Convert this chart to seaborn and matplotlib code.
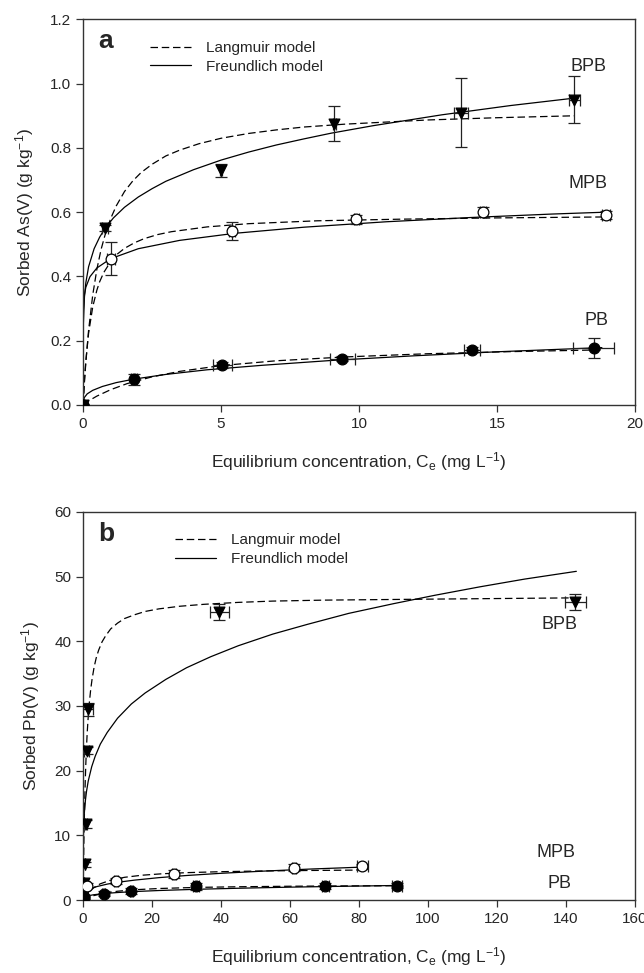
import numpy as np
import matplotlib
matplotlib.use("Agg")
import matplotlib.pyplot as plt
import seaborn as sns
from matplotlib.lines import Line2D

# ---- panel a: As(V) observed points ----
a_bpb_x = [0, 0.8, 5.0, 9.1, 13.7, 17.8]
a_bpb_y = [0, 0.55, 0.73, 0.875, 0.91, 0.95]
a_bpb_yerr = [0, 0.01, 0.02, 0.055, 0.108, 0.073]
a_bpb_xerr = [0, 0.1, 0.05, 0.05, 0.26, 0.2]

a_mpb_x = [0, 1.0, 5.4, 9.9, 14.5, 18.95]
a_mpb_y = [0, 0.455, 0.54, 0.577, 0.60, 0.592]
a_mpb_yerr = [0, 0.052, 0.028, 0.015, 0.015, 0.012]
a_mpb_xerr = [0, 0.15, 0.1, 0.1, 0.1, 0.15]

a_pb_x = [0, 1.85, 5.05, 9.4, 14.1, 18.5]
a_pb_y = [0, 0.08, 0.124, 0.143, 0.172, 0.177]
a_pb_yerr = [0, 0.017, 0.008, 0.008, 0.008, 0.03]
a_pb_xerr = [0, 0.1, 0.35, 0.45, 0.3, 0.75]

# panel a model curves
a_bpb_fr_x = [0, 0.001, 0.01, 0.05, 0.1, 0.2, 0.4, 0.6, 0.8, 1.1, 1.5, 2, 2.5, 3, 4, 5, 6, 7, 8, 9,
              10.5, 13, 15.5, 17.9]
a_bpb_fr_y = [0, 0.167, 0.252, 0.336, 0.380, 0.430, 0.486, 0.522, 0.550, 0.582, 0.615, 0.647, 0.673,
              0.696, 0.732, 0.762, 0.787, 0.809, 0.828, 0.846, 0.869, 0.903, 0.932, 0.956]
a_bpb_la_x = [0, 0.05, 0.1, 0.2, 0.35, 0.5, 0.65, 0.8, 1.0, 1.2, 1.5, 1.8, 2.1, 2.5, 3.0, 3.5, 4.2,
              5, 6, 7, 8, 9.5, 12.5, 15, 17.8]
a_bpb_la_y = [0, 0.071, 0.132, 0.232, 0.342, 0.422, 0.483, 0.530, 0.580, 0.619, 0.664, 0.697, 0.723,
              0.749, 0.775, 0.793, 0.813, 0.830, 0.845, 0.856, 0.865, 0.874, 0.887, 0.894, 0.900]

a_mpb_fr_x = [0, 0.001, 0.01, 0.05, 0.1, 0.25, 0.5, 1.0, 2, 3.5, 5.5, 8, 11, 14, 17, 19.0]
a_mpb_fr_y = [0, 0.238, 0.295, 0.343, 0.366, 0.399, 0.426, 0.455, 0.486, 0.512, 0.534, 0.553, 0.570,
              0.583, 0.594, 0.600]
a_mpb_la_x = [0, 0.05, 0.1, 0.2, 0.35, 0.5, 0.6, 0.75, 1.0, 1.25, 1.5, 1.85, 2.2, 2.7, 3.2, 4.5, 6,
              8.5, 11.5, 15, 19.0]
a_mpb_la_y = [0, 0.078, 0.137, 0.223, 0.305, 0.357, 0.383, 0.412, 0.446, 0.470, 0.487, 0.504, 0.517,
              0.530, 0.539, 0.554, 0.564, 0.573, 0.578, 0.582, 0.585]

a_pb_fr_x = [0, 0.01, 0.05, 0.15, 0.35, 0.7, 1.2, 1.85, 3, 4.5, 6.5, 9, 12, 15, 18.8]
a_pb_fr_y = [0, 0.013, 0.023, 0.034, 0.045, 0.057, 0.069, 0.080, 0.0945, 0.109, 0.123, 0.138,
             0.1525, 0.165, 0.178]
a_pb_la_x = [0, 0.2, 0.5, 1.0, 1.6, 2.5, 3.5, 5, 7, 9.5, 12.5, 15.5, 18.8]
a_pb_la_y = [0, 0.012, 0.027, 0.047, 0.066, 0.087, 0.104, 0.122, 0.137, 0.149, 0.159, 0.1655, 0.171]

# ---- panel b: Pb observed points ----
b_bpb_x = [0.1, 0.4, 0.6, 0.8, 1.0, 1.5, 39.5, 142.7]
b_bpb_y = [0.6, 2.6, 5.5, 11.8, 23.1, 29.5, 44.5, 46.1]
b_bpb_yerr = [0.2, 0.3, 0.4, 0.6, 0.6, 1.0, 1.2, 1.2]
b_bpb_xerr = [0, 0, 0, 0.3, 0.6, 1.4, 2.8, 3.0]

b_mpb_x = [0.2, 1.2, 9.5, 26.3, 61.1, 81.0]
b_mpb_y = [0.5, 2.2, 2.9, 4.0, 5.0, 5.2]
b_mpb_yerr = [0.3, 0.4, 0.5, 0.6, 0.5, 0.4]
b_mpb_xerr = [0, 0.3, 0.5, 0.5, 0.5, 1.5]

b_pb_x = [0.3, 6.0, 14.0, 32.8, 70.2, 91.0]
b_pb_y = [0.5, 1.0, 1.4, 2.1, 2.2, 2.2]
b_pb_yerr = [0.3, 0.4, 0.5, 0.5, 0.5, 0.4]
b_pb_xerr = [0, 0.5, 0.5, 0.8, 1.0, 1.5]

# panel b model curves
b_bpb_fr_x = [0, 0.001, 0.01, 0.05, 0.15, 0.3, 0.4, 0.7, 1, 1.5, 2.5, 3.5, 5, 7, 10, 14, 18, 24, 30,
              37, 45, 55, 65, 77, 90, 102, 115, 128, 143]
b_bpb_fr_y = [0, 3.6, 6.0, 8.6, 11.0, 12.8, 13.7, 15.5, 16.8, 18.4, 20.6, 22.2, 24.1, 25.9, 28.1,
              30.3, 32.0, 34.1, 35.9, 37.6, 39.3, 41.1, 42.6, 44.3, 45.8, 47.1, 48.4, 49.6, 50.8]
b_bpb_la_x = [0, 0.05, 0.1, 0.15, 0.2, 0.3, 0.4, 0.5, 0.65, 0.8, 1.0, 1.2, 1.5, 1.8, 2.2, 2.6, 3.2,
              3.8, 4.5, 5.5, 6.5, 8, 10, 12, 15, 18, 22, 28, 35, 45, 55, 70, 100, 142.7]
b_bpb_la_y = [0, 2.3, 4.35, 6.2, 7.96, 11.0, 13.6, 15.9, 18.7, 21.1, 23.7, 25.9, 28.4, 30.4, 32.5,
              34.1, 36.0, 37.4, 38.6, 39.9, 40.8, 41.9, 42.8, 43.5, 44.1, 44.6, 45.0, 45.4, 45.7,
              46.0, 46.2, 46.35, 46.5, 46.7]

b_mpb_fr_x = [0, 0.05, 0.2, 0.5, 1, 2, 4, 7, 10, 15, 22, 30, 40, 52, 66, 81]
b_mpb_fr_y = [0, 0.57, 0.86, 1.12, 1.38, 1.70, 2.08, 2.46, 2.74, 3.08, 3.46, 3.79, 4.13, 4.46, 4.79, 5.09]
b_mpb_la_x = [0, 0.5, 1.5, 3, 5, 8, 12, 17, 23, 30, 40, 52, 66, 81]
b_mpb_la_y = [0, 0.47, 1.17, 1.89, 2.51, 3.07, 3.51, 3.83, 4.06, 4.23, 4.38, 4.49, 4.57, 4.63]

b_pb_fr_x = [0, 0.05, 0.2, 0.6, 1.5, 3, 6, 10, 15, 22, 33, 45, 60, 75, 91]
b_pb_fr_y = [0, 0.24, 0.36, 0.50, 0.66, 0.81, 1.0, 1.16, 1.31, 1.47, 1.66, 1.82, 1.99, 2.12, 2.25]
b_pb_la_x = [0, 0.5, 1.5, 3, 6, 10, 15, 22, 33, 45, 60, 75, 91]
b_pb_la_y = [0, 0.15, 0.39, 0.67, 1.05, 1.36, 1.59, 1.78, 1.95, 2.05, 2.13, 2.18, 2.21]

sns.set_style("ticks")
plt.rcParams['font.family'] = ['Liberation Sans', 'DejaVu Sans']
plt.rcParams['mathtext.default'] = 'regular'

fig = plt.figure(figsize=(6.44, 9.73), dpi=100)
ax_a = fig.add_axes([0.129, 0.584, 0.857, 0.396])
ax_b = fig.add_axes([0.129, 0.075, 0.857, 0.399])

def curve(ax, x, y, dashed):
    sns.lineplot(x=x, y=y, ax=ax, color='black', lw=0.9, sort=False, estimator=None,
                 linestyle=(0, (6, 3)) if dashed else '-')

def points(ax, x, y, xerr, yerr, marker, face):
    ax.errorbar(x, y, xerr=xerr, yerr=yerr, fmt='none', ecolor='#222222',
                elinewidth=0.9, capsize=4, capthick=0.9, zorder=3)
    sns.scatterplot(x=x, y=y, ax=ax, marker=marker, s=60, color=face,
                    edgecolor='black', linewidth=0.9, zorder=4)

# panel a
curve(ax_a, a_bpb_la_x, a_bpb_la_y, True)
curve(ax_a, a_bpb_fr_x, a_bpb_fr_y, False)
curve(ax_a, a_mpb_la_x, a_mpb_la_y, True)
curve(ax_a, a_mpb_fr_x, a_mpb_fr_y, False)
curve(ax_a, a_pb_la_x, a_pb_la_y, True)
curve(ax_a, a_pb_fr_x, a_pb_fr_y, False)
points(ax_a, a_bpb_x, a_bpb_y, a_bpb_xerr, a_bpb_yerr, 'v', 'black')
points(ax_a, a_mpb_x, a_mpb_y, a_mpb_xerr, a_mpb_yerr, 'o', 'white')
points(ax_a, a_pb_x, a_pb_y, a_pb_xerr, a_pb_yerr, 'o', 'black')

ax_a.set_xlim(0, 20)
ax_a.set_ylim(0, 1.2)
ax_a.set_xticks([0, 5, 10, 15, 20])
ax_a.set_yticks([0, 0.2, 0.4, 0.6, 0.8, 1.0, 1.2])
ax_a.set_yticklabels(['0.0', '0.2', '0.4', '0.6', '0.8', '1.0', '1.2'])
ax_a.set_ylabel('Sorbed As(V) (g kg$^{-1}$)', fontsize=12.5, labelpad=10)
ax_a.set_xlabel('Equilibrium concentration, C$_e$ (mg L$^{-1}$)', fontsize=12.5, labelpad=14)
ax_a.text(18.3, 1.055, 'BPB', fontsize=13, ha='center', va='center')
ax_a.text(18.3, 0.688, 'MPB', fontsize=13, ha='center', va='center')
ax_a.text(18.6, 0.264, 'PB', fontsize=13, ha='center', va='center')
ax_a.text(0.028, 0.975, 'a', transform=ax_a.transAxes, fontsize=19, fontweight='bold',
          ha='left', va='top')

# panel b
curve(ax_b, b_bpb_la_x, b_bpb_la_y, True)
curve(ax_b, b_bpb_fr_x, b_bpb_fr_y, False)
curve(ax_b, b_mpb_la_x, b_mpb_la_y, True)
curve(ax_b, b_mpb_fr_x, b_mpb_fr_y, False)
curve(ax_b, b_pb_la_x, b_pb_la_y, True)
curve(ax_b, b_pb_fr_x, b_pb_fr_y, False)
points(ax_b, b_bpb_x, b_bpb_y, b_bpb_xerr, b_bpb_yerr, 'v', 'black')
points(ax_b, b_mpb_x, b_mpb_y, b_mpb_xerr, b_mpb_yerr, 'o', 'white')
points(ax_b, b_pb_x, b_pb_y, b_pb_xerr, b_pb_yerr, 'o', 'black')

ax_b.set_xlim(0, 160)
ax_b.set_ylim(0, 60)
ax_b.set_xticks([0, 20, 40, 60, 80, 100, 120, 140, 160])
ax_b.set_yticks([0, 10, 20, 30, 40, 50, 60])
ax_b.set_ylabel('Sorbed Pb(V) (g kg$^{-1}$)', fontsize=12.5, labelpad=9)
ax_b.set_xlabel('Equilibrium concentration, C$_e$ (mg L$^{-1}$)', fontsize=12.5, labelpad=14)
ax_b.text(138, 42.6, 'BPB', fontsize=13, ha='center', va='center')
ax_b.text(137, 7.4, 'MPB', fontsize=13, ha='center', va='center')
ax_b.text(138, 2.6, 'PB', fontsize=13, ha='center', va='center')
ax_b.text(0.028, 0.975, 'b', transform=ax_b.transAxes, fontsize=19, fontweight='bold',
          ha='left', va='top')

handles = [Line2D([], [], color='black', lw=0.9, linestyle=(0, (6, 3))),
           Line2D([], [], color='black', lw=0.9)]
names = ['Langmuir model', 'Freundlich model']
for ax, anchor in ((ax_a, (0.11, 0.96)), (ax_b, (0.155, 0.96))):
    ax.legend(handles, names, loc='upper left', bbox_to_anchor=anchor, frameon=False,
              fontsize=11, handlelength=2.7, handletextpad=1.0, labelspacing=0.3,
              borderaxespad=0)
    for s in ax.spines.values():
        s.set_visible(True)
        s.set_color('#333333')
        s.set_linewidth(1.0)
    ax.tick_params(axis='both', which='major', labelsize=11, length=5, width=0.9,
                   color='#333333', direction='out', top=False, right=False)

fig.savefig('out.png', dpi=100)
